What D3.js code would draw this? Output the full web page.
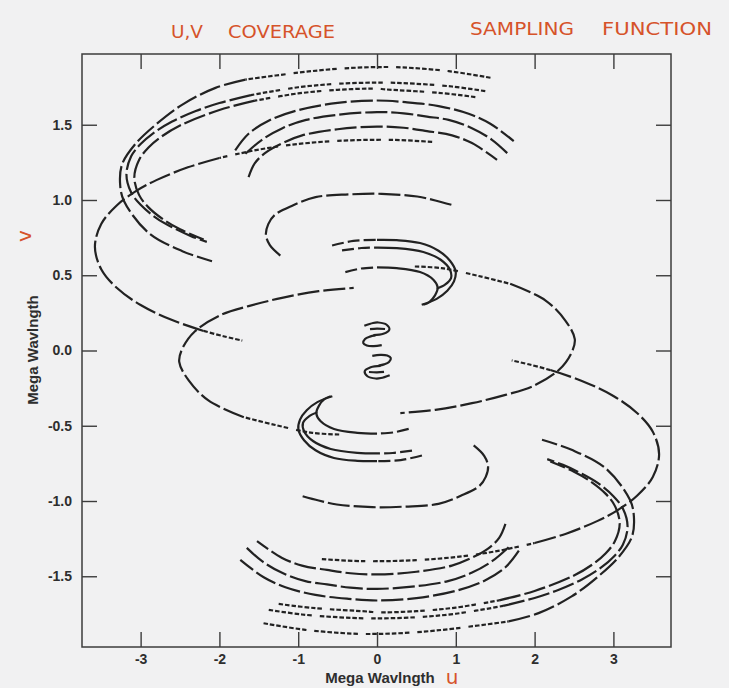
<!DOCTYPE html>
<html>

<head>
  <meta charset="UTF-8">
  <title>u,v coverage</title>
  <script src="https://d3js.org/d3.v7.min.js"></script>
  <style>
    body {
      margin: 0;
      background: #f1f1f2;
    }

    svg text {
      font-family: "Liberation Sans", Arial, sans-serif;
      font-weight: bold;
      fill: #2e2e2e;
    }

    svg text.hand {
      font-family: "DejaVu Sans", sans-serif;
      font-weight: normal;
      fill: #d6532a;
    }
  </style>
</head>

<body>
  <svg></svg>

  <script>
    // tick values
    const xTicks = [-3, -2, -1, 0, 1, 2, 3];
    const yTicks = [-1.5, -1.0, -0.5, 0.0, 0.5, 1.0, 1.5];

    // uv tracks in mega wavelengths (one of each conjugate pair)
    const t1Top = [[0.70, 1.386], [0.3, 1.398], [0, 1.40], [-0.5, 1.393], [-1.0, 1.372], [-1.5, 1.335], [-2.0, 1.279]];
    const t1Side = [[-2.0, 1.279], [-2.4, 1.217], [-2.8, 1.132], [-3.05, 1.062], [-3.3, 0.965], [-3.5, 0.84], [-3.58, 0.69],
      [-3.5, 0.54], [-3.3, 0.415], [-3.0, 0.302], [-2.6, 0.202], [-2.2, 0.13]];
    const t1End = [[-2.2, 0.13], [-1.95, 0.095], [-1.71, 0.066]];

    const r0Top = [[1.44, 1.812], [0.91, 1.856], [0.317, 1.881], [0, 1.883], [-0.5, 1.872], [-1.0, 1.846], [-1.67, 1.80]];
    const r0Side = [[-1.67, 1.80], [-2.05, 1.745], [-2.47, 1.634], [-2.81, 1.50], [-3.07, 1.37], [-3.236, 1.236], [-3.26, 1.103],
      [-3.21, 0.992], [-2.90, 0.782], [-2.47, 0.66], [-2.094, 0.593]];
    const r1Top = [[1.374, 1.723], [0.952, 1.754], [0.317, 1.777], [0, 1.78], [-0.5, 1.772], [-1.0, 1.749], [-1.6, 1.697]];
    const r1Side = [[-1.6, 1.697], [-2.0, 1.644], [-2.3, 1.591], [-2.6, 1.521], [-2.85, 1.44], [-3.0, 1.372], [-3.12, 1.29],
      [-3.18, 1.17], [-3.12, 1.05], [-3.0, 0.968], [-2.8, 0.88], [-2.6, 0.819], [-2.36, 0.76], [-2.16, 0.722]];
    const r2Top = [[1.248, 1.684], [0.783, 1.712], [0.106, 1.735], [0, 1.74], [-0.5, 1.732], [-1.0, 1.708], [-1.55, 1.66]];
    const r2Side = [[-1.55, 1.66], [-2.0, 1.598], [-2.5, 1.495], [-2.75, 1.416], [-2.9, 1.349], [-3.02, 1.266], [-3.08, 1.15],
      [-3.02, 1.034], [-2.9, 0.951], [-2.7, 0.866], [-2.5, 0.805], [-2.2, 0.737]];

    const r3 = [[-1.80, 1.33], [-1.63, 1.44], [-1.37, 1.528], [-1.0, 1.597], [-0.5, 1.645], [0, 1.661], [0.36, 1.650],
      [0.782, 1.624], [1.163, 1.573], [1.438, 1.507], [1.735, 1.391]];
    const r4 = [[-1.67, 1.307], [-1.46, 1.40], [-1.2, 1.477], [-0.9, 1.532], [-0.5, 1.566], [0, 1.584], [0.338, 1.576],
      [0.634, 1.554], [0.909, 1.532], [1.205, 1.477], [1.459, 1.40], [1.662, 1.307]];
    const r5 = [[-1.63, 1.152], [-1.55, 1.245], [-1.4, 1.32], [-1.2, 1.378], [-0.95, 1.429], [-0.5, 1.47], [0, 1.488],
      [0.338, 1.48], [0.634, 1.458], [0.952, 1.429], [1.205, 1.378], [1.523, 1.267]];
    const r6 = [[-1.227, 0.631], [-1.36, 0.70], [-1.41, 0.77], [-1.38, 0.84], [-1.30, 0.90], [-1.07, 0.964], [-0.78, 1.019],
      [-0.36, 1.037], [0.06, 1.041], [0.51, 1.023], [0.74, 0.997], [0.973, 0.964]];

    const hookALeft = [[-0.57, 0.698], [-0.3, 0.728], [0, 0.735]];
    const hookA = [[0, 0.735], [0.25, 0.733], [0.546, 0.714], [0.78, 0.663], [0.926, 0.596], [0.998, 0.525], [0.977, 0.459],
      [0.892, 0.397], [0.757, 0.343], [0.567, 0.304]];
    const hookBLeft = [[-0.444, 0.665], [-0.2, 0.681], [0, 0.684]];
    const hookB = [[0, 0.684], [0.25, 0.68], [0.588, 0.654], [0.808, 0.603], [0.926, 0.536], [0.939, 0.481], [0.863, 0.437],
      [0.757, 0.41]];
    const hookCLeft = [[-0.402, 0.521], [-0.2, 0.545], [0, 0.552]];
    const hookC = [[0, 0.552], [0.25, 0.547], [0.546, 0.521], [0.715, 0.47], [0.77, 0.419], [0.736, 0.366], [0.664, 0.322],
      [0.588, 0.304]];

    const mTop = [[0.48, 0.558], [0.82, 0.547], [1.29, 0.495], [1.69, 0.443]];
    const mSide = [[1.69, 0.443], [2.14, 0.332], [2.39, 0.199], [2.51, 0.075], [2.47, -0.013], [2.31, -0.128], [1.97, -0.239],
      [1.63, -0.295], [1.205, -0.35], [0.74, -0.394], [0.296, -0.416]];

    const curl1 = [[-0.161, 0.164], [-0.05, 0.183], [0.017, 0.186], [0.122, 0.171], [0.156, 0.138], [0.08, 0.111], [-0.046, 0.102]];
    const curl2 = [[-0.089, 0.142], [0.0, 0.145], [0.102, 0.143]];
    const curl3 = [[-0.02, 0.10], [-0.09, 0.092], [-0.152, 0.076], [-0.175, 0.05], [-0.13, 0.033], [-0.04, 0.029], [0.06, 0.036]];

    // dash looks: scans of short samples, long scans, medium, unbroken
    const DOT = "4.5 2 4.5 2 4.5 2 4.5 2 4.5 2 4.5 2 4.5 8";
    const LONG = "22 4";
    const MED = "12 4";
    const SOLID = "none";

    const tracks = [
      [t1Top, DOT], [t1Side, LONG], [t1End, DOT],
      [r0Top, DOT], [r0Side, LONG], [r1Top, DOT], [r1Side, LONG], [r2Top, DOT], [r2Side, LONG],
      [r3, LONG], [r4, LONG], [r5, LONG], [r6, LONG],
      [hookALeft, MED], [hookA, SOLID], [hookBLeft, MED], [hookB, SOLID], [hookCLeft, MED], [hookC, SOLID],
      [mTop, DOT], [mSide, LONG],
      [curl1, SOLID], [curl2, SOLID], [curl3, SOLID]
    ];

    let width = 729,
      height = 688;

    let svg = d3.select("svg")
      .attr("width", width)
      .attr("height", height);

    svg.append("rect")
      .attr("width", width)
      .attr("height", height)
      .attr("fill", "#f1f1f2");

    let x = d3.scaleLinear().domain([-3.744, 3.731]).range([82, 671]);
    let y = d3.scaleLinear().domain([-1.97, 1.97]).range([647, 54]);

    let line = d3.line()
      .x(d => x(d[0]))
      .y(d => y(d[1]))
      .curve(d3.curveCatmullRom.alpha(0.5));

    // each track plus its conjugate (-u,-v)
    let g = svg.append("g").attr("id", "tracks");
    tracks.forEach(([pts, dash]) => {
      [pts, pts.map(p => [-p[0], -p[1]])].forEach(p => {
        g.append("path")
          .attr("d", line(p))
          .attr("fill", "none")
          .attr("stroke", "#222")
          .attr("stroke-width", 2.2)
          .attr("stroke-dasharray", dash);
      });
    });

    // frame
    svg.append("rect")
      .attr("x", 82).attr("y", 54)
      .attr("width", 589).attr("height", 593)
      .attr("fill", "none")
      .attr("stroke", "#3c3c3c")
      .attr("stroke-width", 1.5);

    function styleAxis(sel) {
      sel.select(".domain").remove();
      sel.selectAll(".tick line").attr("stroke", "#3c3c3c").attr("stroke-width", 1.4);
      sel.selectAll(".tick text").style("font-size", "14px");
    }

    svg.append("g")
      .attr("transform", "translate(0,647)")
      .call(d3.axisBottom(x).tickValues(xTicks).tickSize(-15).tickPadding(7).tickFormat(d => String(d)))
      .call(styleAxis);
    svg.append("g")
      .attr("transform", "translate(0,54)")
      .call(d3.axisTop(x).tickValues(xTicks).tickSize(-15).tickFormat(""))
      .call(styleAxis);
    svg.append("g")
      .attr("transform", "translate(82,0)")
      .call(d3.axisLeft(y).tickValues(yTicks).tickSize(-15).tickPadding(10).tickFormat(d => d.toFixed(1)))
      .call(styleAxis);
    svg.append("g")
      .attr("transform", "translate(671,0)")
      .call(d3.axisRight(y).tickValues(yTicks).tickSize(-15).tickFormat(""))
      .call(styleAxis);

    // axis titles
    svg.append("text")
      .attr("x", 380).attr("y", 683)
      .attr("text-anchor", "middle")
      .style("font-size", "15px")
      .text("Mega Wavlngth");
    svg.append("text")
      .attr("transform", "translate(38,350) rotate(-90)")
      .attr("text-anchor", "middle")
      .style("font-size", "15px")
      .text("Mega Wavlngth");

    // handwritten notes
    let notes = [
      { t: "U,V", x: 171, y: 38, w: 32 },
      { t: "COVERAGE", x: 228, y: 38, w: 107 },
      { t: "SAMPLING", x: 470, y: 35, w: 104 },
      { t: "FUNCTION", x: 602, y: 35, w: 110 }
    ];
    svg.selectAll("text.note")
      .data(notes)
      .enter()
      .append("text")
      .attr("class", "hand note")
      .attr("x", d => d.x)
      .attr("y", d => d.y)
      .attr("textLength", d => d.w)
      .attr("lengthAdjust", "spacingAndGlyphs")
      .style("font-size", "18px")
      .text(d => d.t);

    svg.append("text")
      .attr("class", "hand")
      .attr("transform", "translate(31,236) rotate(-90)")
      .attr("text-anchor", "middle")
      .style("font-size", "20px")
      .text("v");
    svg.append("text")
      .attr("class", "hand")
      .attr("x", 452).attr("y", 684)
      .attr("text-anchor", "middle")
      .style("font-size", "20px")
      .text("u");
  </script>

</body>

</html>
